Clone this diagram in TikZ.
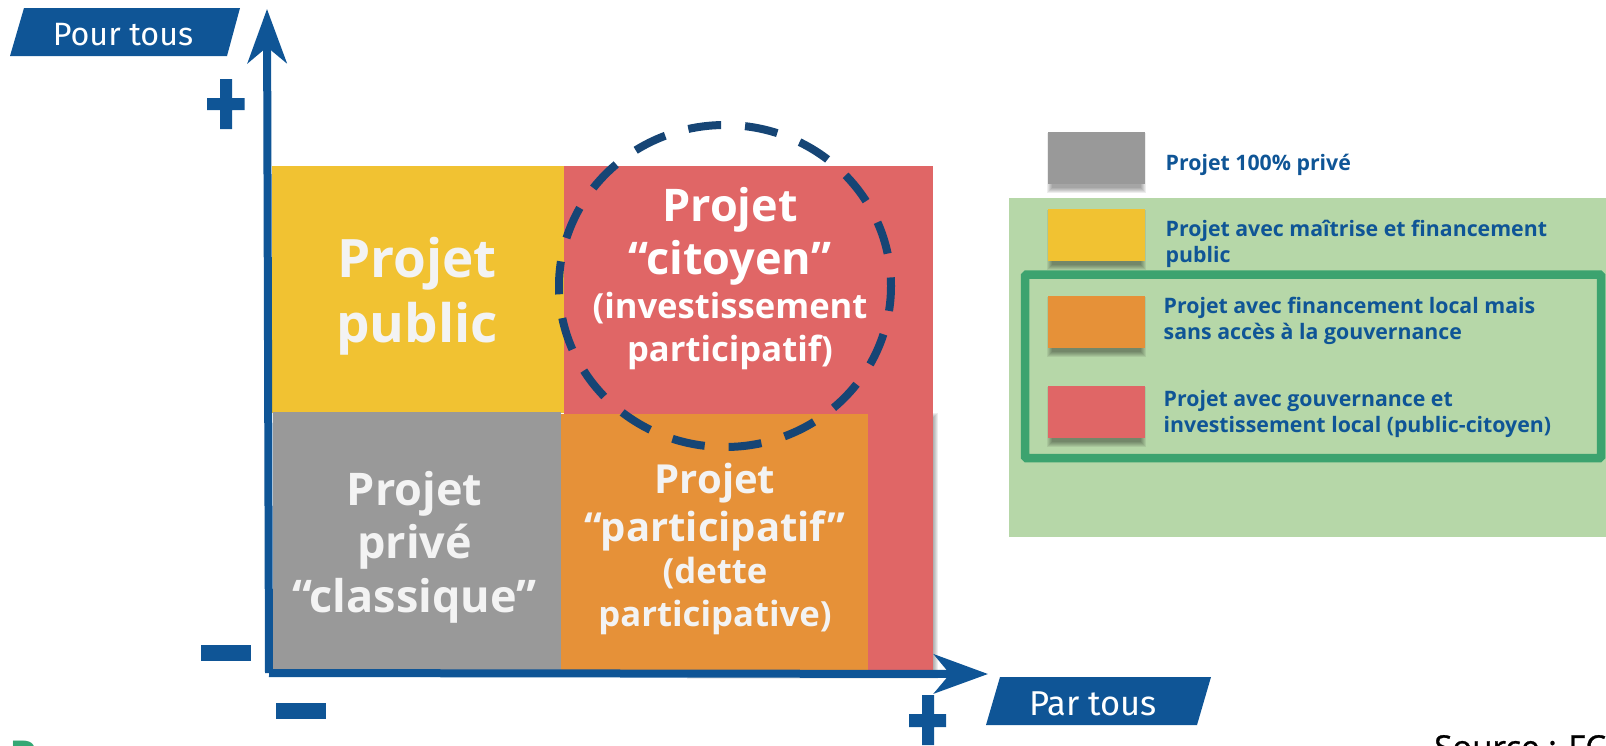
\documentclass[tikz,border=0pt]{standalone}
\usepackage{fontspec}
\setmainfont{Open Sans}
\newfontfamily\firafont{Fira Sans}
\newfontfamily\sourcefont{Open Sans}[FakeBold=0.8]
\usetikzlibrary{arrows.meta}
\definecolor{axisblue}{HTML}{0F5596}
\definecolor{ringblue}{HTML}{164575}
\definecolor{qyellow}{HTML}{F1C232}
\definecolor{qred}{HTML}{E06666}
\definecolor{qorange}{HTML}{E69138}
\definecolor{qgray}{HTML}{999999}
\definecolor{panelgreen}{HTML}{B6D7A8}
\definecolor{framegreen}{HTML}{3CA36F}
\definecolor{lettergreen}{HTML}{34A874}
\definecolor{softwhite}{HTML}{F3F3F3}
\newcommand{\fs}[2]{\fontsize{#1}{#2}\selectfont}
\tikzset{
  axisline/.style={draw=axisblue,line width=8pt,-{Stealth[length=54pt,width=39pt,inset=16pt]}},
  quadtext/.style={inner sep=0pt,align=center,anchor=base,text=softwhite},
  legendtext/.style={inner sep=0pt,align=left,anchor=base west,text=axisblue,
    font=\fs{21.3}{26}\bfseries},
  labeltext/.style={inner sep=0pt,anchor=base,text=white,font=\firafont},
}
\newcommand{\softshadow}[4]{%
  \foreach \d in {0,1,...,5}{%
    \fill[black,opacity=0.07] ({#1-\d},{#2-\d}) rectangle ({#3+\d},{#4+\d});}}
\begin{document}
\begin{tikzpicture}[x=1pt,y=-1pt]
\useasboundingbox (0,0) rectangle (1606,745);
\clip (0,0) rectangle (1606,745);
% chart
\softshadow{692}{418}{933}{674}
\fill[qred] (564,166) rectangle (933,670);
\fill[qyellow] (272,166) rectangle (564,413);
\fill[qgray] (273,412) rectangle (561,670);
\fill[qorange] (561,414) rectangle (868,670);
% axes
\coordinate (origin) at (269,673);
\coordinate (ytip) at (267,9);
\coordinate (xtip) at (988,674);
\draw[axisline] (269,673) -- (ytip);
\draw[axisline] (origin) -- (xtip);
% dashed ring
\draw[ringblue,line width=8pt,line join=round,dash pattern=on 33pt off 24.05pt,dash phase=8pt]
  (725,286) ellipse [x radius=166,y radius=161];
% quadrant texts
\node[quadtext,font=\fs{53}{65}\bfseries] (qpublic) at (417,342) {Projet\\public};
\node[quadtext,font=\fs{45}{53.5}\bfseries] (qprive) at (414.5,612) {Projet\\privé\\“classique”};
\node[quadtext,text=white,font=\fs{45}{53}\bfseries] (qcitoyen) at (730,361) {Projet\\“citoyen”\\[-9pt]\fs{34.6}{44}(investissement\\[-10pt]\fs{34.6}{44}participatif)};
\node[quadtext,font=\fs{40}{48}\bfseries] (qparticip) at (715,626) {Projet\\“participatif”\\[-6pt]\fs{34.7}{44}(dette\\[-5pt]\fs{34.7}{44}participative)};
% plus / minus marks
\fill[axisblue] (207,98) rectangle (244.5,110) (220,79) rectangle (232,129);
\fill[axisblue] (201,645) rectangle (251,661);
\fill[axisblue] (276,703) rectangle (326,719);
\fill[axisblue] (909,714) rectangle (946,727) (922,695) rectangle (934,745);
% axis labels
\fill[axisblue] (24,8) -- (240,8) -- (227,56) -- (10,56) -- cycle;
\node[labeltext] (pourtous) at (123,45) {\fs{32.3}{40}Pour tous};
\fill[axisblue] (1000,677) -- (1211,677) -- (1197,725) -- (986,725) -- cycle;
\node[labeltext] (partous) at (1093,715) {\fs{34.5}{40}Par tous};
% legend
\fill[panelgreen] (1009,198) rectangle (1606,537);
\draw[framegreen,line width=8.5pt,rounded corners=1.5pt] (1025,274.5) rectangle (1601,458);
\softshadow{1052}{138}{1141}{188}
\fill[qgray] (1048,132) rectangle (1145,184);
\softshadow{1052}{215}{1141}{265}
\fill[qyellow] (1048,209) rectangle (1145,261);
\softshadow{1052}{302}{1141}{352}
\fill[qorange] (1048,296) rectangle (1145,348);
\softshadow{1052}{392}{1141}{442}
\fill[qred] (1048,386) rectangle (1145,438);
\node[legendtext] (l1) at (1165.5,170) {Projet 100\% privé};
\node[legendtext] (l2) at (1165.5,262) {Projet avec maîtrise et financement\\public};
\node[legendtext] (l3) at (1163.5,339) {Projet avec financement local mais\\sans accès à la gouvernance};
\node[legendtext] (l4) at (1163.5,432) {Projet avec gouvernance et\\investissement local (public-citoyen)};
% cut-off texts
\node[inner sep=0pt,anchor=base west,text=lettergreen,font=\fs{44}{50}\bfseries] (cutletter) at (9,772) {P};
\node[inner sep=0pt,anchor=base west,text=black,font=\sourcefont\fs{33}{40}] (source) at (1434,759) {Source : FC};
\end{tikzpicture}
\end{document}
